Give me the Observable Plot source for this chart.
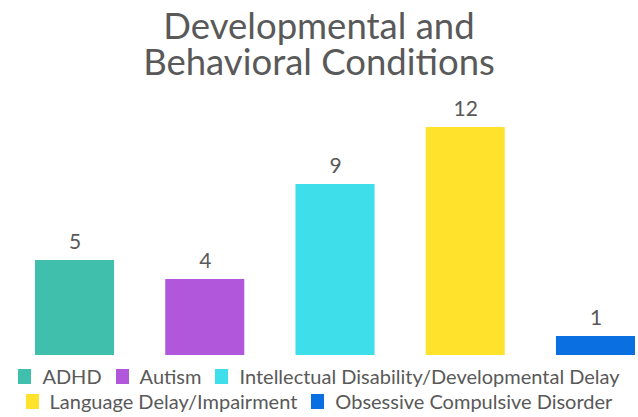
<!DOCTYPE html>
<html>
<head>
<meta charset="utf-8">
<script src="https://cdn.jsdelivr.net/npm/d3@7"></script>
<script src="https://cdn.jsdelivr.net/npm/@observablehq/plot@0.6"></script>
<style>
  body { margin: 0; background: #fff; font-family: Lato, "Open Sans", sans-serif; color: #595959; }
  #wrap { width: 638px; height: 417px; position: relative; overflow: hidden; }
  .title { position: absolute; left: 0; width: 638px; height: 34px; text-align: center; font-size: 36.5px; line-height: 34px; color: #595959; white-space: nowrap; }
  #chart { position: absolute; top: 85px; left: 0; }
  .row { position: absolute; left: 0; width: 638px; display: flex; justify-content: center; font-size: 20px; line-height: 20px; color: #595959; }
  .item { display: flex; align-items: center; margin: 0 7px; white-space: nowrap; }
  .sw { width: 13px; height: 15px; margin-right: 11px; display: inline-block; }
</style>
</head>
<body>
<div id="wrap">
  <div class="title" style="top:8px">Developmental and</div>
  <div class="title" style="top:44px">Behavioral Conditions</div>
  <div id="chart"></div>
  <div class="row" id="row1" style="top:366px"></div>
  <div class="row" id="row2" style="top:391px"></div>
</div>
<script>
const categories = ["ADHD", "Autism", "Intellectual Disability/Developmental Delay", "Language Delay/Impairment", "Obsessive Compulsive Disorder"];
const values = [5, 4, 9, 12, 1];
const colors = ["#40BFAD", "#B157DB", "#3EDFEB", "#FFE22B", "#0A6FE0"];

const data = categories.map((c, i) => ({category: c, value: values[i]}));

const chart = Plot.plot({
  width: 638,
  height: 272,
  marginTop: 42,
  marginBottom: 2,
  marginLeft: 35,
  marginRight: 3,
  style: {fontFamily: "Lato, 'Open Sans', sans-serif", background: "transparent"},
  x: {domain: categories, paddingInner: 0.393, paddingOuter: 0, round: false, axis: null},
  y: {domain: [0, 12], axis: null},
  color: {domain: categories, range: colors},
  marks: [
    Plot.barY(data, {x: "category", y: "value", fill: "category"}),
    Plot.text(data, {x: "category", y: "value", text: d => String(d.value), dy: -18, fontSize: 21, fill: "#595959"})
  ]
});
document.getElementById("chart").appendChild(chart);

categories.forEach((c, i) => {
  const item = document.createElement("div");
  item.className = "item";
  const sw = document.createElement("span");
  sw.className = "sw";
  sw.style.background = colors[i];
  item.appendChild(sw);
  item.appendChild(document.createTextNode(c));
  document.getElementById(i < 3 ? "row1" : "row2").appendChild(item);
});
</script>
</body>
</html>
